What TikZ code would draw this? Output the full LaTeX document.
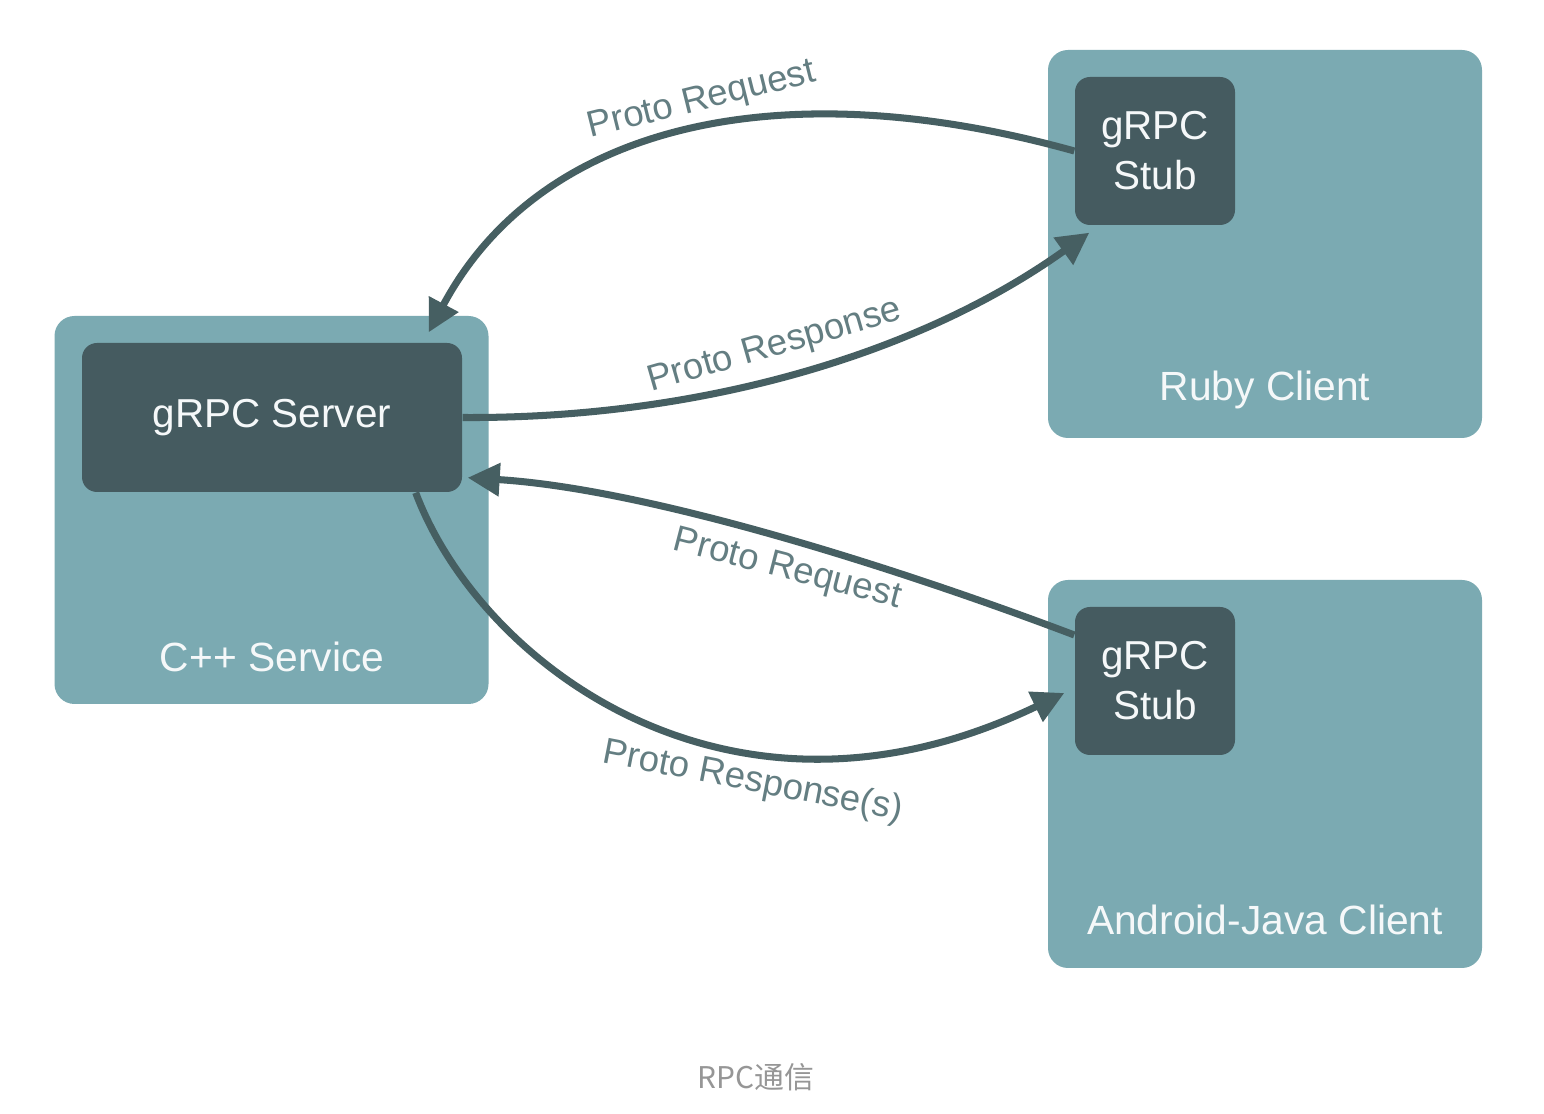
\documentclass[tikz,border=0pt]{standalone}
\usepackage{fontspec}
\setmainfont{Liberation Sans}
\newfontfamily\cjkfont{Noto Sans CJK SC}
\usetikzlibrary{arrows.meta}
\definecolor{boxteal}{RGB}{123,170,178}
\definecolor{darkteal}{RGB}{69,91,96}
\definecolor{arrowteal}{RGB}{70,95,98}
\definecolor{labelteal}{RGB}{100,126,130}
\definecolor{captiongray}{RGB}{150,150,150}
\tikzset{
  svcbox/.style={fill=boxteal,rounded corners=0.2cm,minimum width=4.34cm,minimum height=3.88cm},
  stubbox/.style={fill=darkteal,rounded corners=0.15cm,inner sep=0pt,text=white!92!boxteal,align=center,font=\fontsize{11.5}{14.2}\selectfont},
  msg/.style={draw=arrowteal,line width=2pt,-{Triangle[length=3.2mm,width=3.2mm]}},
  msglabel/.style={text=labelteal,font=\fontsize{10.4}{12}\selectfont},
  svclabel/.style={text=white!92!boxteal,font=\fontsize{11.6}{14}\selectfont}
}
\begin{document}
\begin{tikzpicture}
\useasboundingbox[fill=white] (0,0) rectangle (15.44,11.14);
% services
\node[svcbox] (cpp) at (2.715,6.04) {};
\node[svcbox] (ruby) at (12.65,8.70) {};
\node[svcbox] (android) at (12.65,3.40) {};
\node[stubbox,minimum width=3.8cm,minimum height=1.49cm] (server) at (2.72,6.965) {gRPC Server};
\node[stubbox,minimum width=1.6cm,minimum height=1.48cm] (stubR) at (11.55,9.63) {gRPC\\Stub};
\node[stubbox,minimum width=1.6cm,minimum height=1.48cm] (stubA) at (11.55,4.33) {gRPC\\Stub};
\node[svclabel] (cppname) at (2.72,4.57) {C++ Service};
\node[svclabel] (rubyname) at (12.65,7.24) {Ruby Client};
\node[svclabel] (androidname) at (12.65,1.94) {Android-Java Client};
% messages
\draw[msg] (stubR.west) .. controls (7.8,10.45) and (5.4,9.9) .. ([shift={(-0.34,0.10)}]server.north east);
\draw[msg] (server.east) .. controls (7.0,6.95) and (9.2,7.6) .. ([shift={(0.15,-0.07)}]stubR.south west);
\draw[msg] ([yshift=4.6mm]stubA.west) .. controls (9.0,5.45) and (6.5,6.25) .. ([shift={(0.05,0.15)}]server.south east);
\draw[msg] ([xshift=-4.7mm]server.south east) .. controls (4.8,4.5) and (7.3,2.6) .. ([shift={(-0.1,-0.12)}]stubA.west);
\node[msglabel,rotate=14] (req1) at (7.02,10.13) {Proto Request};
\node[msglabel,rotate=16] (resp1) at (7.75,7.67) {Proto Response};
\node[msglabel,rotate=-14.5] (req2) at (7.87,5.44) {Proto Request};
\node[msglabel,rotate=-11] (resp2) at (7.53,3.32) {Proto Response(s)};
\node[text=captiongray,font=\cjkfont\fontsize{8.5}{10}\selectfont] (caption) at (7.56,0.37) {RPC通信};
\end{tikzpicture}
\end{document}
